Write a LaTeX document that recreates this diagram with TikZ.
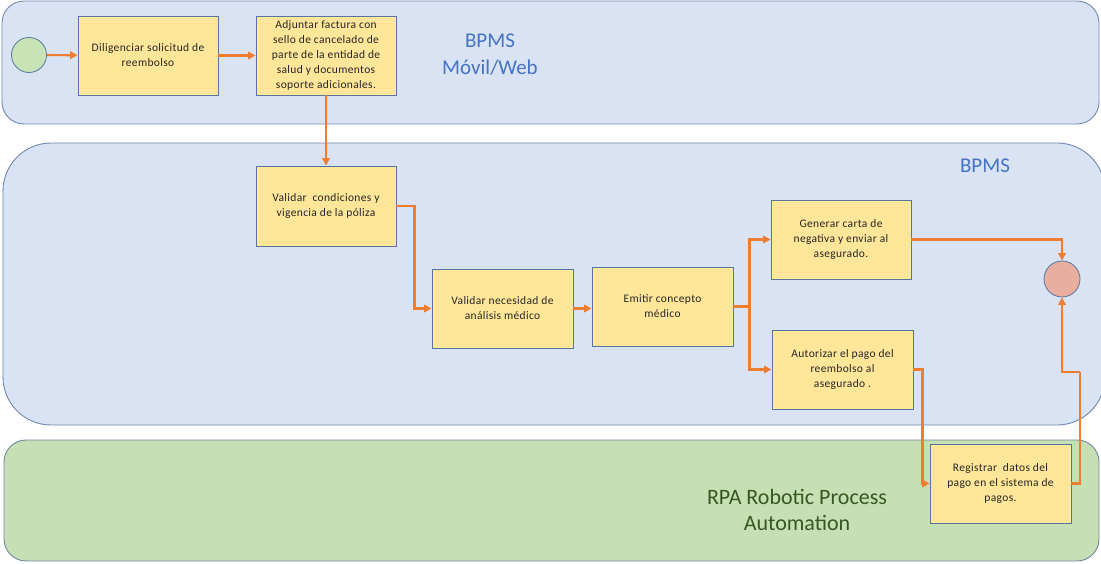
\documentclass[tikz,border=0pt]{standalone}
\usepackage{fontspec}
\setmainfont{Carlito}
\newfontfamily\tasklettering[LetterSpace=3]{Carlito}
\usetikzlibrary{arrows.meta}

\definecolor{laneblue}{HTML}{DAE3F3}
\definecolor{laneblueline}{HTML}{6F88B4}
\definecolor{lanegreen}{HTML}{C5E0B4}
\definecolor{lanegreenline}{HTML}{6F87A0}
\definecolor{boxfill}{HTML}{FFE699}
\definecolor{boxline}{HTML}{5675A0}
\definecolor{flow}{HTML}{ED7D31}
\definecolor{startfill}{HTML}{C8E3B6}
\definecolor{endfill}{HTML}{E8AE9F}
\definecolor{labelblue}{HTML}{4472C4}
\definecolor{labelgreen}{HTML}{385723}

\tikzset{
  lane/.style={line width=0.9pt},
  task/.style={draw=boxline, fill=boxfill, line width=0.8pt, inner sep=0pt,
    minimum width=140pt, minimum height=79pt, align=center,
    font=\tasklettering\fontsize{11.5}{15}\selectfont, text=black!85},
  event/.style={circle, draw=boxline, line width=0.8pt, inner sep=0pt},
  flowarrow/.style={draw=flow, line width=2.2pt,
    -{Triangle[length=7.5pt,width=7.5pt]}},
  flowline/.style={draw=flow, line width=2.2pt},
  lanelabel/.style={align=center, font=\fontsize{21}{27}\selectfont}
}

\begin{document}
\begin{tikzpicture}[x=1pt,y=-1pt]
\useasboundingbox (0,0) rectangle (1101,564);

% swimlanes
\draw[lane, draw=laneblueline, fill=laneblue, rounded corners=22pt]
  (2,1) rectangle (1099,124);
\draw[lane, draw=laneblueline, fill=laneblue, rounded corners=48pt]
  (3,143) rectangle (1105,425);
\draw[lane, draw=lanegreenline, fill=lanegreen, rounded corners=22pt]
  (4,440) rectangle (1099,561);

% lane titles
\node[lanelabel, text=labelblue] (lmovil) at (490,55) {BPMS\\Móvil/Web};
\node[lanelabel, text=labelblue] (lbpms) at (985,166) {BPMS};
\node[lanelabel, text=labelgreen, font=\fontsize{22}{26}\selectfont] (lrpa) at (797,510)
  {RPA Robotic Process\\Automation};

% events
\node[event, fill=startfill, minimum size=35pt] (s) at (29,55) {};
\node[event, fill=endfill, minimum size=36pt] (e) at (1062,279) {};

% tasks
\node[task] (b1) at (148,55.5) {Diligenciar solicitud de\\reembolso};
\node[task] (b2) at (326,55.5) {Adjuntar factura con\\sello de cancelado de\\parte de la entidad de\\salud y documentos\\soporte adicionales.};
\node[task, minimum height=80pt] (b3) at (326,206) {Validar\ \ condiciones y\\vigencia de la póliza};
\node[task, minimum width=141pt] (b4) at (502.5,308.5) {Validar necesidad de\\análisis médico};
\node[task, minimum width=141pt] (b5) at (662.5,306.5) {Emitir concepto\\médico};
\node[task] (b6) at (841,239.5) {Generar carta de\\negativa y enviar al\\asegurado.};
\node[task, minimum width=141pt] (b7) at (842.5,369.5) {Autorizar el pago del\\reembolso al\\asegurado .};
\node[task, minimum width=141pt] (b8) at (1000.5,483.5) {Registrar\ \ datos del\\pago en el sistema de\\pagos.};

\coordinate (j) at (1080,372);

% sequence flows
\draw[flowarrow] (s) -- (b1);
\draw[flowarrow] (b1) -- (b2);
\draw[flowarrow] (b2) -- (b3);
\draw[flowarrow] (b3.east) -- ++(18,0) |- (b4.west);
\draw[flowarrow] (b4.east) -- (b4.east -| b5.west);
\draw[flowarrow] (b5.east) -- ++(16,0) |- (b6.west);
\draw[flowarrow] (b5.east) -- ++(16,0) |- (b7.west);
\draw[flowarrow] (b6.east) -| (e.north);
\draw[flowarrow] (b7.east) -- ++(9,0) |- (b8.west);
\draw[flowline] (b8.east) -| (j);
\draw[flowarrow] (j) -| (e.south);

\end{tikzpicture}
\end{document}
